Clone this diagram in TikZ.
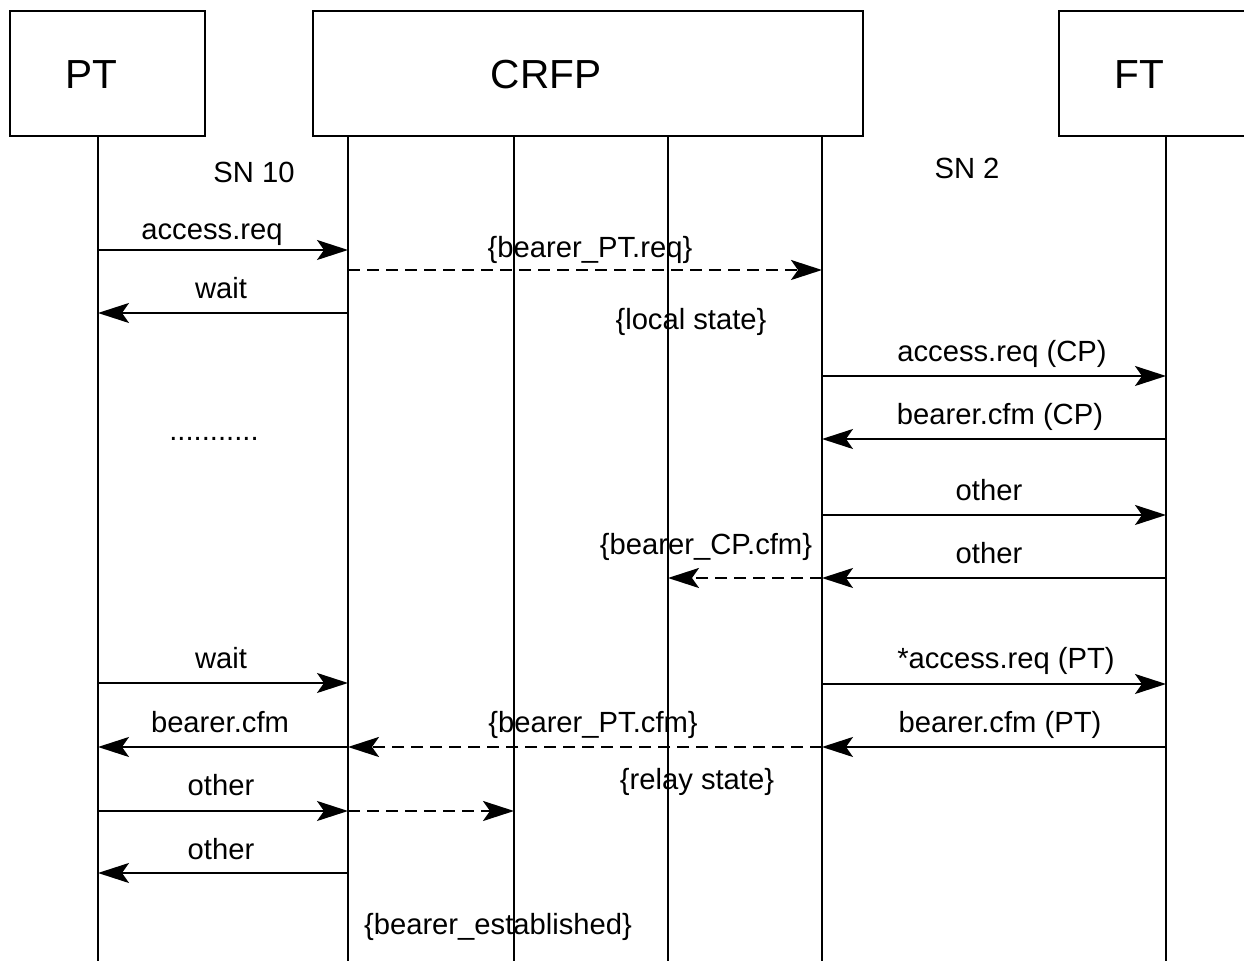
\documentclass[tikz,border=0pt]{standalone}
\usepackage{fontspec}
\setmainfont{Liberation Sans}
\usetikzlibrary{arrows.meta}
\tikzset{
  hdr/.style={font=\fontsize{20.3}{24}\selectfont, anchor=base, inner sep=0pt},
  lbl/.style={font=\fontsize{14.6}{17}\selectfont, anchor=base, inner sep=0pt},
  ent/.style={draw, line width=0.75pt, inner sep=0pt},
  life/.style={line width=1pt},
  msg/.style={line width=1pt, -{Stealth[length=15.5pt, width=10pt, inset=3.5pt]}},
  dmsg/.style={msg, line width=1.2pt, dash pattern=on 6pt off 3.5pt}
}
\begin{document}
\begin{tikzpicture}[x=0.5pt, y=-0.5pt]
\clip (0,0) rectangle (1244,961);
\fill[white] (0,0) rectangle (1244,961);
% entity boxes
\draw[ent] (10,11) rectangle (205,136);
\draw[ent] (313,11) rectangle (863,136);
\draw[ent] (1059,11) rectangle (1270,136);
\node[hdr] (hPT) at (91,89) {PT};
\node[hdr] (hCRFP) at (546,89) {CRFP};
\node[hdr] (hFT) at (1139,89) {FT};
% lifelines
\coordinate (pt) at (98,136);
\coordinate (c1) at (348,136);
\coordinate (c2) at (514,136);
\coordinate (c3) at (668,136);
\coordinate (c4) at (822,136);
\coordinate (ft) at (1166,136);
\foreach \l in {pt,c1,c2,c3,c4,ft} \draw[life] (\l) -- (\l |- 0,961);
% free labels
\node[lbl] (sn10) at (254,183) {SN 10};
\node[lbl] (sn2) at (967,179) {SN 2};
\node[lbl] (dots) at (214,441) {...........};
\node[lbl] (ls) at (691,330) {\{local state\}};
\node[lbl] (rs) at (697,790) {\{relay state\}};
\node[lbl] (be) at (498,935) {\{bearer\_established\}};
% messages
\node[lbl] (m1) at (212,240) {access.req};
\draw[msg] (pt |- 0,250) -- (c1 |- 0,250);
\node[lbl] (m2) at (590,258) {\{bearer\_PT.req\}};
\draw[dmsg] (c1 |- 0,270) -- (c4 |- 0,270);
\node[lbl] (m3) at (221,299) {wait};
\draw[msg] (c1 |- 0,313) -- (pt |- 0,313);
\node[lbl] (m4) at (1002,362) {access.req (CP)};
\draw[msg] (c4 |- 0,376) -- (ft |- 0,376);
\node[lbl] (m5) at (1000,425) {bearer.cfm (CP)};
\draw[msg] (ft |- 0,439) -- (c4 |- 0,439);
\node[lbl] (m6) at (989,501) {other};
\draw[msg] (c4 |- 0,515) -- (ft |- 0,515);
\node[lbl] (m7) at (989,564) {other};
\draw[msg] (ft |- 0,578) -- (c4 |- 0,578);
\node[lbl] (m8) at (706,555) {\{bearer\_CP.cfm\}};
\draw[dmsg] (c4 |- 0,578) -- (c3 |- 0,578);
\node[lbl] (m9) at (221,669) {wait};
\draw[msg] (pt |- 0,683) -- (c1 |- 0,683);
\node[lbl] (m10) at (1006,669) {*access.req (PT)};
\draw[msg] (c4 |- 0,684) -- (ft |- 0,684);
\node[lbl] (m11) at (220,733) {bearer.cfm};
\draw[msg] (c1 |- 0,747) -- (pt |- 0,747);
\node[lbl] (m12) at (593,733) {\{bearer\_PT.cfm\}};
\draw[dmsg] (c4 |- 0,747) -- (c1 |- 0,747);
\node[lbl] (m13) at (1000,733) {bearer.cfm (PT)};
\draw[msg] (ft |- 0,747) -- (c4 |- 0,747);
\node[lbl] (m14) at (221,796) {other};
\draw[msg] (pt |- 0,811) -- (c1 |- 0,811);
\draw[dmsg] (c1 |- 0,811) -- (c2 |- 0,811);
\node[lbl] (m15) at (221,860) {other};
\draw[msg] (c1 |- 0,873) -- (pt |- 0,873);
\end{tikzpicture}
\end{document}
